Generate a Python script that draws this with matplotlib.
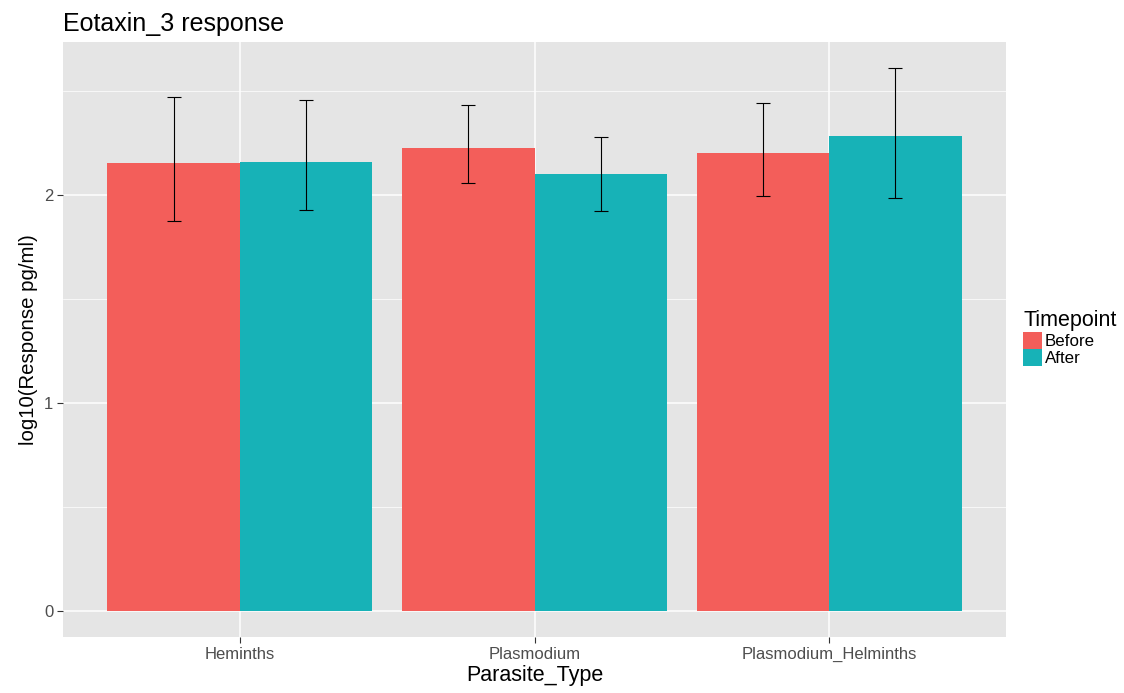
import matplotlib
matplotlib.use("Agg")
import matplotlib.pyplot as plt
from matplotlib.patches import Patch
import numpy as np

plt.rcParams['font.family'] = ['Liberation Sans', 'DejaVu Sans']

categories = ["Heminths", "Plasmodium", "Plasmodium_Helminths"]
timepoints = ["Before", "After"]
before_vals = [2.154, 2.226, 2.202]
after_vals = [2.159, 2.101, 2.284]
before_lo = [1.875, 2.058, 1.995]
before_hi = [2.471, 2.433, 2.442]
after_lo = [1.928, 1.923, 1.986]
after_hi = [2.457, 2.279, 2.611]
colors = ["#F35E5A", "#17B2B7"]

fig = plt.figure(figsize=(11.24, 6.93), dpi=100)
ax = fig.add_axes([63/1124, 1-637/693, (1006-63)/1124, (637-42)/693])
ax.set_facecolor("#E5E5E5")

x = np.arange(len(categories))
w = 0.45
series = [(before_vals, before_lo, before_hi), (after_vals, after_lo, after_hi)]
for i, (vals, lo, hi) in enumerate(series):
    xpos = x + (i - 0.5) * w
    ax.bar(xpos, vals, width=w, color=colors[i], zorder=3)
    vals_a = np.array(vals)
    yerr = [vals_a - np.array(lo), np.array(hi) - vals_a]
    ax.errorbar(xpos, vals, yerr=yerr, fmt="none", ecolor="black",
                elinewidth=0.8, capsize=5, capthick=0.8, zorder=4)

ax.set_xlim(-0.6, 2.6)
ax.set_ylim(-0.125, 2.736)
ax.set_xticks(x)
ax.set_xticklabels(categories)
ax.set_yticks([0, 1, 2])
ax.set_yticks([0.5, 1.5, 2.5], minor=True)
ax.grid(True, which="major", color="white", linewidth=1.1, zorder=0)
ax.grid(True, which="minor", axis="y", color="white", linewidth=0.5, zorder=0)
ax.tick_params(which="minor", length=0)
ax.tick_params(which="major", length=4, color="#333333", width=0.8,
               labelsize=12, labelcolor="#4D4D4D", pad=3)
for s in ax.spines.values():
    s.set_visible(False)

ax.set_xlabel("Parasite_Type", fontsize=15.5, labelpad=2)
ax.set_ylabel("log10(Response pg/ml)", fontsize=14.7, labelpad=4)
ax.set_title("Eotaxin_3 response", fontsize=18, loc="left", x=0.0, pad=8)

handles = [Patch(facecolor=colors[0], edgecolor="none"),
           Patch(facecolor=colors[1], edgecolor="none")]
leg = fig.legend(handles, timepoints, title="Timepoint", loc="upper left",
                 bbox_to_anchor=(1018/1124, 1-305/693), frameon=False,
                 fontsize=12.2, title_fontsize=15.5, handlelength=1.1,
                 handleheight=1.1, handletextpad=0.2, labelspacing=0.0,
                 borderaxespad=0, borderpad=0.3)
leg._legend_box.align = "left"
leg._legend_box.sep = 1

fig.savefig("out.png", dpi=100)
